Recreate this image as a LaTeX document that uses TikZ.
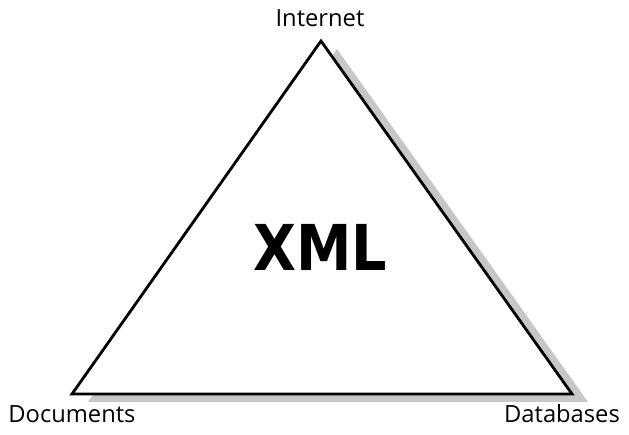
\documentclass[tikz,border=0pt]{standalone}
\usepackage{fontspec}
\setmainfont{Open Sans}
\newfontfamily\heavyfont{DejaVu Sans}
\usepackage{tikz}

\begin{document}
\begin{tikzpicture}[x=0.02cm,y=-0.02cm]
        \useasboundingbox (0,0) rectangle (629,435);
        \coordinate (top) at (321,41);
        \coordinate (left) at (72,394);
        \coordinate (right) at (572,394);

        \node (inet) at (320,18) {\fontsize{13.5}{15}\selectfont Internet};
        \node (docs) at (72,414) {\fontsize{13.5}{15}\selectfont Documents};
        \node (dbs) at (562,414) {\fontsize{13.5}{15}\selectfont Databases};

        % shadow first, then the white triangle over it
        \fill[black!22] ([shift={(16,8)}]top) -- ([shift={(16,8)}]right) -- ([shift={(16,8)}]left) -- cycle;
        \filldraw[fill=white,draw=black,line width=1.6pt,line join=miter] (top) -- (right) -- (left) -- cycle;

        \node[xscale=0.88] (xml) at (320,247) {\heavyfont\bfseries\fontsize{36}{40}\selectfont XML};
      \end{tikzpicture}
\end{document}
